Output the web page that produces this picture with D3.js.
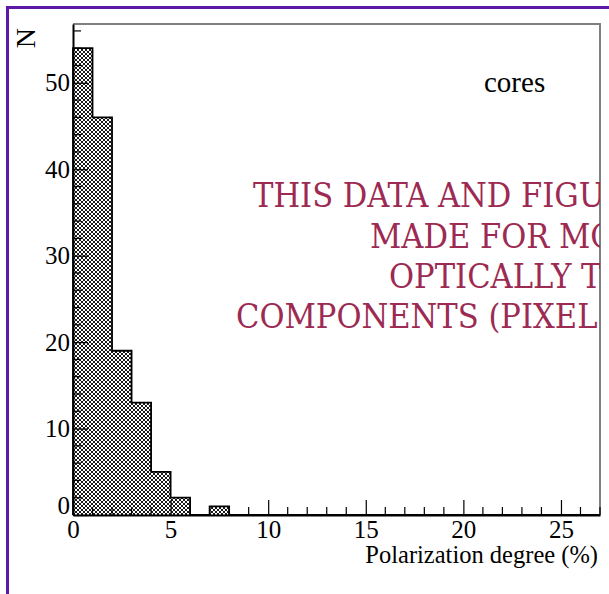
<!DOCTYPE html>
<html>
<head>
<meta charset="utf-8">
<script src="https://cdn.jsdelivr.net/npm/d3@7"></script>
<style>
  html, body { margin: 0; padding: 0; background: #fff; }
  svg { display: block; }
</style>
</head>
<body>
<svg id="chart" width="609" height="594"></svg>
<script>
// Histogram of polarization degree for cores (bin width 1 %)
const binWidth = 1;
const counts = [54, 46, 19, 13, 5, 2, 0, 1, 0, 0, 0, 0, 0, 0, 0, 0, 0, 0, 0, 0, 0, 0, 0, 0, 0, 0, 0];
const xDomain = [0, 27];
const yDomain = [0, 56.8];
const xMajorTicks = [0, 5, 10, 15, 20, 25];
const xMinorTicks = d3.range(0, 28, 1);
const yMajorTicks = [0, 10, 20, 30, 40, 50];
const yMinorTicks = d3.range(0, 57, 2);
const xTitle = "Polarization degree (%)";
const yTitle = "N";
const label = "cores";
const notice = [
  "THIS DATA AND FIGURE ARE NOT",
  "MADE FOR MODELLING",
  "OPTICALLY THIN",
  "COMPONENTS (PIXEL BY PIXEL)"
];

const svg = d3.select("#chart");
const m = { left: 73, right: 600, top: 24, bottom: 515 };

const x = d3.scaleLinear().domain(xDomain).range([m.left, m.right]);
const y = d3.scaleLinear().domain(yDomain).range([m.bottom, m.top]);

// outer canvas frame
svg.append("path")
  .attr("d", `M7.5,594 V7.5 H609`)
  .attr("fill", "none")
  .attr("stroke", "#5e18a8")
  .attr("stroke-width", 3);

// cross-hatch fill
const defs = svg.append("defs");
const pat = defs.append("pattern")
  .attr("id", "hatch")
  .attr("patternUnits", "userSpaceOnUse")
  .attr("width", 4).attr("height", 4);
pat.append("rect").attr("width", 4).attr("height", 4).attr("fill", "#fff");
pat.append("path")
  .attr("d", "M0,0 L4,4 M4,0 L0,4 M-1,1 L1,-1 M3,5 L5,3 M-1,3 L1,5 M3,-1 L5,1")
  .attr("stroke", "#000").attr("stroke-width", 0.9);

defs.append("clipPath").attr("id", "plotClip")
  .append("rect")
  .attr("x", 0).attr("y", 0)
  .attr("width", m.right).attr("height", 594);

// plot frame (top and right)
svg.append("path")
  .attr("d", `M${m.left},${m.top} H${m.right} V${m.bottom}`)
  .attr("fill", "none")
  .attr("stroke", "#808080")
  .attr("stroke-width", 2);

// histogram outline as a step path
const pts = [[xDomain[0], 0]];
counts.forEach((c, i) => {
  pts.push([i * binWidth, c]);
  pts.push([(i + 1) * binWidth, c]);
});
pts.push([counts.length * binWidth, 0]);
const line = d3.line().x(d => x(d[0])).y(d => y(d[1]));
svg.append("path")
  .attr("d", line(pts) + "Z")
  .attr("fill", "url(#hatch)")
  .attr("stroke", "none");
svg.append("path")
  .attr("d", line(pts))
  .attr("fill", "none")
  .attr("stroke", "#000")
  .attr("stroke-width", 1.8);

const serif = "'Liberation Serif', 'Times New Roman', serif";

// x axis
const xAxis = svg.append("g")
  .attr("transform", `translate(0,${m.bottom})`)
  .call(d3.axisBottom(x).tickValues(xMajorTicks).tickSize(-15).tickSizeOuter(0).tickPadding(6).tickFormat(d3.format("d")));
xAxis.selectAll(".tick line").attr("stroke-width", 1.2);
xAxis.selectAll(".tick text")
  .attr("font-family", serif).attr("font-size", 25).attr("fill", "#000")
  .attr("y", 23).attr("dy", 0);
xAxis.select(".domain").attr("stroke-width", 2);
svg.append("g").selectAll("line").data(xMinorTicks.filter(v => !xMajorTicks.includes(v)))
  .join("line")
  .attr("x1", d => x(d)).attr("x2", d => x(d))
  .attr("y1", m.bottom).attr("y2", m.bottom - 8)
  .attr("stroke", "#000").attr("stroke-width", 1.2);

// y axis
const yAxis = svg.append("g")
  .attr("transform", `translate(${m.left},0)`)
  .call(d3.axisLeft(y).tickValues(yMajorTicks).tickSize(-15).tickSizeOuter(0).tickPadding(3).tickFormat(d3.format("d")));
yAxis.selectAll(".tick line").attr("stroke-width", 1.2);
yAxis.selectAll(".tick text")
  .attr("font-family", serif).attr("font-size", 25).attr("fill", "#000")
  .attr("dy", d => d === 0 ? "-0.05em" : "0.32em");
yAxis.select(".domain").attr("stroke-width", 2);
svg.append("g").selectAll("line").data(yMinorTicks.filter(v => !yMajorTicks.includes(v)))
  .join("line")
  .attr("x1", m.left).attr("x2", m.left + 8)
  .attr("y1", d => y(d)).attr("y2", d => y(d))
  .attr("stroke", "#000").attr("stroke-width", 1.2);

// axis titles
svg.append("text")
  .attr("x", 598).attr("y", 563)
  .attr("text-anchor", "end")
  .attr("font-family", serif).attr("font-size", 24.5)
  .text(xTitle);
svg.append("text")
  .attr("transform", "translate(35,28) rotate(-90)")
  .attr("text-anchor", "end")
  .attr("font-family", serif).attr("font-size", 28)
  .text(yTitle);

// sample label
svg.append("text")
  .attr("x", 484).attr("y", 92)
  .attr("font-family", serif).attr("font-size", 29)
  .text(label);

// notice text across the plot, cut at the frame
const noticeStarts = [253, 370, 389, 236];
const noticeBase = [207, 248, 288, 328];
svg.append("g").attr("clip-path", "url(#plotClip)")
  .selectAll("text").data(notice).join("text")
  .attr("x", (d, i) => noticeStarts[i])
  .attr("y", (d, i) => noticeBase[i])
  .attr("font-family", "'DejaVu Serif Condensed', 'DejaVu Serif', serif")
  .attr("font-stretch", "condensed")
  .attr("font-size", 34)
  .attr("fill", "#9c2a52")
  .text(d => d);
</script>
</body>
</html>
